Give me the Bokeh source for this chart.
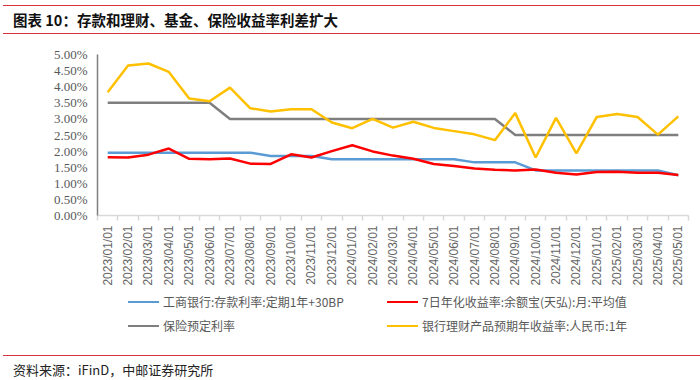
import math
from bokeh.plotting import figure
from bokeh.models import (Range1d, FixedTicker, PrintfTickFormatter, Div,
                          ColumnDataSource)
from bokeh.layouts import column
from bokeh.embed import file_html
from bokeh.resources import INLINE

# ---------------- data ----------------
dates = ["2023/01/01", "2023/02/01", "2023/03/01", "2023/04/01", "2023/05/01",
         "2023/06/01", "2023/07/01", "2023/08/01", "2023/09/01", "2023/10/01",
         "2023/11/01", "2023/12/01", "2024/01/01", "2024/02/01", "2024/03/01",
         "2024/04/01", "2024/05/01", "2024/06/01", "2024/07/01", "2024/08/01",
         "2024/09/01", "2024/10/01", "2024/11/01", "2024/12/01", "2025/01/01",
         "2025/02/01", "2025/03/01", "2025/04/01", "2025/05/01"]

# 工商银行:存款利率:定期1年+30BP (%)
icbc_deposit = [1.95, 1.95, 1.95, 1.95, 1.95, 1.95, 1.95, 1.95, 1.85, 1.85,
                1.85, 1.75, 1.75, 1.75, 1.75, 1.75, 1.75, 1.75, 1.65, 1.65,
                1.65, 1.40, 1.40, 1.40, 1.40, 1.40, 1.40, 1.40, 1.25]
# 7日年化收益率:余额宝(天弘):月:平均值 (%)
yuebao_7d = [1.81, 1.80, 1.89, 2.08, 1.76, 1.75, 1.77, 1.61, 1.60, 1.90,
             1.80, 2.00, 2.18, 1.99, 1.86, 1.76, 1.60, 1.54, 1.46, 1.42,
             1.40, 1.43, 1.33, 1.27, 1.35, 1.36, 1.33, 1.33, 1.26]
# 保险预定利率 (%)
insurance_rate = [3.5, 3.5, 3.5, 3.5, 3.5, 3.5, 3.0, 3.0, 3.0, 3.0,
                  3.0, 3.0, 3.0, 3.0, 3.0, 3.0, 3.0, 3.0, 3.0, 3.0,
                  2.5, 2.5, 2.5, 2.5, 2.5, 2.5, 2.5, 2.5, 2.5]
# 银行理财产品预期年收益率:人民币:1年 (%)
wmp_yield = [3.83, 4.66, 4.72, 4.46, 3.63, 3.55, 3.97, 3.33, 3.23, 3.30,
             3.30, 2.89, 2.71, 3.00, 2.73, 2.91, 2.72, 2.62, 2.52, 2.34,
             3.18, 1.80, 3.03, 1.93, 3.06, 3.15, 3.06, 2.51, 3.08]

y_ticks = [0.0, 0.5, 1.0, 1.5, 2.0, 2.5, 3.0, 3.5, 4.0, 4.5, 5.0]

series_names = ["工商银行:存款利率:定期1年+30BP",
                "7日年化收益率:余额宝(天弘):月:平均值",
                "保险预定利率",
                "银行理财产品预期年收益率:人民币:1年"]
series_colors = ["#5b9bd5", "#ff0000", "#7f7f7f", "#ffc000"]
title_text = "图表 10：存款和理财、基金、保险收益率利差扩大"
source_text = "资料来源：iFinD，中邮证券研究所"

W = 700

# ---------------- figure ----------------
n = len(dates)
idx = list(range(n))
src = ColumnDataSource(dict(x=idx, icbc=icbc_deposit, yeb=yuebao_7d,
                            ins=insurance_rate, wmp=wmp_yield))

p = figure(width=W, height=257, margin=0,
           x_range=Range1d(-0.5, n - 0.5), y_range=Range1d(y_ticks[0], y_ticks[-1]),
           output_backend="svg", toolbar_location=None,
           min_border_left=97, min_border_right=12, min_border_top=19,
           min_border_bottom=77, outline_line_color=None,
           background_fill_color="white", border_fill_color="white")
p.xgrid.visible = False
p.ygrid.visible = False

# x axis
p.xaxis.ticker = FixedTicker(ticks=idx, minor_ticks=[i - 0.5 for i in range(n + 1)])
p.xaxis.major_label_overrides = {i: d for i, d in enumerate(dates)}
p.xaxis.major_label_orientation = math.pi / 2
p.xaxis.major_tick_line_color = None
p.xaxis.major_tick_out = 0
p.xaxis.major_tick_in = 0
p.xaxis.minor_tick_out = 5
p.xaxis.minor_tick_in = 0
p.xaxis.minor_tick_line_color = "#d9d9d9"
p.xaxis.minor_tick_line_width = 1.5
p.xaxis.axis_line_color = "#d9d9d9"
p.xaxis.axis_line_width = 1.5
p.xaxis.major_label_standoff = 5
p.xaxis.major_label_text_font = "Liberation Sans"
p.xaxis.major_label_text_font_size = "12px"
p.xaxis.major_label_text_color = "#666666"

# y axis
p.yaxis.ticker = FixedTicker(ticks=y_ticks)
p.yaxis.formatter = PrintfTickFormatter(format="%.2f%%")
p.yaxis.major_tick_line_color = None
p.yaxis.minor_tick_line_color = None
p.yaxis.axis_line_color = "#7f7f7f"
p.yaxis.axis_line_width = 1.5
p.yaxis.major_label_standoff = 4
p.yaxis.major_label_text_font = "Liberation Serif"
p.yaxis.major_label_text_font_size = "13px"
p.yaxis.major_label_text_color = "#595959"

lw = 2.5
p.line("x", "icbc", source=src, line_color=series_colors[0], line_width=lw)
p.line("x", "yeb", source=src, line_color=series_colors[1], line_width=lw)
p.line("x", "ins", source=src, line_color=series_colors[2], line_width=lw)
p.line("x", "wmp", source=src, line_color=series_colors[3], line_width=lw)

# ---------------- legend (2 x 2, below the axis) ----------------
col_left = [128, 387]   # px from the left of the page
row_mid = [10, 34]      # px centre of each row inside the legend block
parts = ['<div style="position:relative;width:%dpx;height:46px;'
         'font-family:\'Noto Sans CJK SC\';font-size:12px;color:#595959;">' % W]
for k, (name, color) in enumerate(zip(series_names, series_colors)):
    cx = col_left[k % 2]
    cy = row_mid[k // 2]
    parts.append('<div style="position:absolute;left:%dpx;top:%.1fpx;width:31px;'
                 'height:2.5px;background:%s;"></div>' % (cx, cy - 1.25, color))
    parts.append('<div style="position:absolute;left:%dpx;top:%dpx;height:16px;'
                 'line-height:16px;white-space:nowrap;">%s</div>' % (cx + 35, cy - 8, name))
parts.append('</div>')
legend_div = Div(text="".join(parts), width=W, height=46, margin=0)

# ---------------- title / source ----------------
title_div = Div(text=(
    '<div style="box-sizing:border-box;margin:5px 0 0 3px;width:%dpx;height:29px;'
    'border-top:1px solid #d9333f;border-bottom:1px solid #d9333f;'
    'padding-left:10px;font-family:\'Noto Sans CJK SC\';font-weight:bold;'
    'font-size:14.5px;line-height:27px;color:#111;white-space:nowrap;">' % (W - 3)
    + title_text + '</div>'), width=W, height=35, margin=0)

source_div = Div(text=(
    '<div style="box-sizing:border-box;margin:17px 0 0 3px;width:%dpx;'
    'border-top:1px solid #d9333f;padding:6px 0 0 10px;'
    'font-family:\'Noto Sans CJK SC\';font-size:13px;line-height:16px;'
    'color:#222;white-space:nowrap;">' % (W - 3) + source_text + '</div>'),
    width=W, height=41, margin=0)

layout = column(title_div, p, legend_div, source_div, spacing=0, margin=0)

open("out.html", "w").write(file_html(layout, INLINE))
